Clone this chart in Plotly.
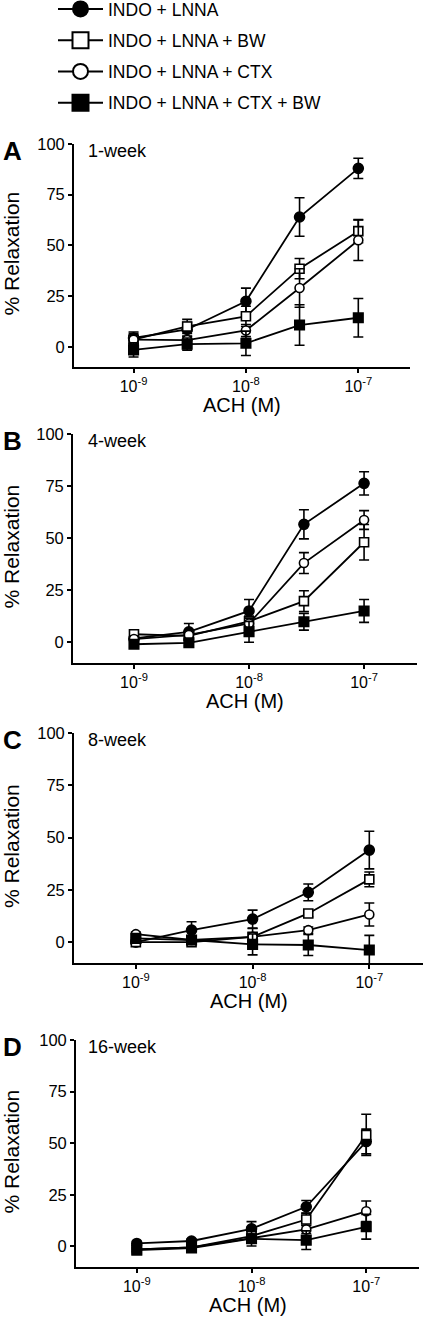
import plotly.graph_objects as go

W, H = 424, 1319

conc = [1e-9, 3e-9, 1e-8, 3e-8, 1e-7]
tick_vals = [1e-9, 1e-8, 1e-7]
tick_text = ["10<sup>-9</sup>", "10<sup>-8</sup>", "10<sup>-7</sup>"]
y_ticks = [0, 25, 50, 75, 100]

series_names = ["INDO + LNNA", "INDO + LNNA + BW", "INDO + LNNA + CTX", "INDO + LNNA + CTX + BW"]
panel_letters = ["A", "B", "C", "D"]
panel_titles = ["1-week", "4-week", "8-week", "16-week"]

# Panel A: 1-week
a_indo = [4.3, 8.5, 22.4, 64.0, 88.0]
a_indo_err = [3.0, 3.5, 6.5, 9.5, 5.0]
a_bw = [3.5, 10.0, 15.0, 38.5, 57.0]
a_bw_err = [3.0, 3.5, 5.0, 5.0, 5.7]
a_ctx = [3.5, 3.3, 8.0, 29.0, 52.5]
a_ctx_err = [2.0, 2.0, 3.0, 9.5, 10.0]
a_ctxbw = [-1.6, 1.3, 1.7, 10.7, 14.3]
a_ctxbw_err = [3.5, 3.0, 6.0, 10.0, 9.5]

# Panel B: 4-week
b_indo = [1.8, 5.0, 15.0, 56.6, 76.3]
b_indo_err = [1.5, 4.0, 5.5, 7.0, 5.6]
b_bw = [3.8, 3.0, 10.0, 19.7, 48.0]
b_bw_err = [1.5, 2.0, 2.5, 5.0, 8.5]
b_ctx = [1.5, 3.5, 9.0, 38.0, 58.7]
b_ctx_err = [1.5, 2.0, 2.5, 5.0, 4.5]
b_ctxbw = [-1.0, -0.3, 5.0, 9.8, 15.0]
b_ctxbw_err = [1.5, 1.5, 5.0, 4.0, 5.5]

# Panel C: 8-week
c_indo = [0.0, 5.7, 11.0, 23.8, 44.0]
c_indo_err = [1.0, 4.0, 4.3, 4.0, 9.0]
c_bw = [0.0, 0.0, 2.5, 13.7, 30.0]
c_bw_err = [1.0, 1.0, 4.0, 1.5, 3.5]
c_ctx = [3.8, 1.0, 2.5, 5.7, 13.2]
c_ctx_err = [1.0, 1.0, 2.0, 1.5, 5.5]
c_ctxbw = [1.8, 1.0, -1.1, -1.4, -3.8]
c_ctxbw_err = [1.0, 1.0, 5.0, 5.0, 7.0]

# Panel D: 16-week
d_indo = [1.4, 2.6, 8.5, 19.2, 50.8]
d_indo_err = [1.0, 1.0, 3.5, 3.0, 6.0]
d_bw = [-1.5, -0.5, 5.0, 13.0, 54.0]
d_bw_err = [1.0, 1.0, 2.0, 3.0, 10.0]
d_ctx = [-1.5, -0.5, 4.0, 8.2, 17.0]
d_ctx_err = [1.0, 1.0, 2.0, 2.0, 5.0]
d_ctxbw = [-1.8, -0.8, 3.7, 3.0, 9.5]
d_ctxbw_err = [1.0, 1.0, 3.5, 4.5, 6.0]

panels = [
    [(a_indo, a_indo_err), (a_bw, a_bw_err), (a_ctx, a_ctx_err), (a_ctxbw, a_ctxbw_err)],
    [(b_indo, b_indo_err), (b_bw, b_bw_err), (b_ctx, b_ctx_err), (b_ctxbw, b_ctxbw_err)],
    [(c_indo, c_indo_err), (c_bw, c_bw_err), (c_ctx, c_ctx_err), (c_ctxbw, c_ctxbw_err)],
    [(d_indo, d_indo_err), (d_bw, d_bw_err), (d_ctx, d_ctx_err), (d_ctxbw, d_ctxbw_err)],
]

# styles: (symbol, fill, plot size, legend size)
styles = [
    ("circle", "black", 10, 15),
    ("square", "white", 9, 16),
    ("circle", "white", 9, 15),
    ("square", "black", 9.5, 16),
]

# panel geometry in pixels: x0, x1, ytop(100), ybottom(-10)
geom = [
    (74, 410, 144, 367),
    (73, 417, 434, 663),
    (74, 423, 733, 963),
    (76, 419, 1040, 1267),
]

FONT = "Liberation Sans, Arial, sans-serif"


def px_x(p):
    return p / W


def px_y(p):
    return 1 - p / H


fig = go.Figure()

for i, panel in enumerate(panels):
    xa = "x" if i == 0 else f"x{i+1}"
    ya = "y" if i == 0 else f"y{i+1}"
    for j, (vals, errs) in enumerate(panel):
        sym, fill, size, _ = styles[j]
        fig.add_trace(go.Scatter(
            x=conc, y=vals,
            error_y=dict(type="data", array=errs, visible=True, color="black",
                         thickness=1.6, width=5),
            mode="lines+markers",
            line=dict(color="black", width=1.8),
            marker=dict(symbol=sym, size=size, color=fill,
                        line=dict(color="black", width=1.6)),
            name=series_names[j], legendgroup=series_names[j],
            showlegend=False, xaxis=xa, yaxis=ya, cliponaxis=False,
        ))

# legend-only traces
for j, name in enumerate(series_names):
    sym, fill, _, lsize = styles[j]
    fig.add_trace(go.Scatter(
        x=[None], y=[None], mode="lines+markers", name=name, legendgroup=name,
        line=dict(color="black", width=2),
        marker=dict(symbol=sym, size=lsize, color=fill,
                    line=dict(color="black", width=2)),
        showlegend=True, xaxis="x", yaxis="y",
    ))

axis_common = dict(showgrid=False, zeroline=False, showline=True, linecolor="black",
                   linewidth=1.8, ticks="outside", ticklen=4, tickwidth=1.5,
                   tickcolor="black")

annotations = []
for i in range(4):
    x0, x1, yt, yb = geom[i]
    sfx = "" if i == 0 else str(i + 1)
    fig.layout["xaxis" + sfx] = dict(
        type="log", range=[-9.53, -6.54], tickvals=tick_vals, ticktext=tick_text,
        domain=[px_x(x0), px_x(x1)], anchor="y" + sfx,
        tickfont=dict(family=FONT, size=16, color="black"), **axis_common)
    fig.layout["yaxis" + sfx] = dict(
        range=[-10, 100], tickvals=y_ticks, domain=[px_y(yb), px_y(yt)],
        anchor="x" + sfx,
        tickfont=dict(family=FONT, size=16.5, color="black"), **axis_common)
    # x-axis title
    annotations.append(dict(text="ACH (M)", x=px_x((x0 + x1) / 2), y=px_y(yb + 38),
                            xref="paper", yref="paper", showarrow=False,
                            font=dict(family=FONT, size=20, color="black"),
                            xanchor="center", yanchor="middle"))
    # y-axis title
    annotations.append(dict(text="% Relaxation", x=px_x(11), y=px_y((yt + yb) / 2 - 2),
                            xref="paper", yref="paper", showarrow=False, textangle=-90,
                            font=dict(family=FONT, size=21, color="black"),
                            xanchor="center", yanchor="middle"))
    # panel letter
    annotations.append(dict(text="<b>" + panel_letters[i] + "</b>", x=px_x(1), y=px_y(yt + 7),
                            xref="paper", yref="paper", showarrow=False,
                            font=dict(family=FONT, size=26, color="black"),
                            xanchor="left", yanchor="middle"))
    # panel title
    annotations.append(dict(text=panel_titles[i], x=px_x(86), y=px_y(yt + 7),
                            xref="paper", yref="paper", showarrow=False,
                            font=dict(family=FONT, size=18, color="black"),
                            xanchor="left", yanchor="middle"))

fig.update_layout(
    width=W, height=H,
    margin=dict(l=0, r=0, t=0, b=0, autoexpand=False),
    paper_bgcolor="white", plot_bgcolor="white",
    font=dict(family=FONT, color="black"),
    annotations=annotations,
    showlegend=True,
    legend=dict(x=px_x(53), y=1 + 9 / H, xanchor="left", yanchor="top",
                font=dict(family=FONT, size=17.5, color="black"),
                tracegroupgap=5.5, itemwidth=45, bgcolor="rgba(0,0,0,0)",
                traceorder="grouped"),
)

fig.write_html("out.html", config={"displayModeBar": False},
               post_script="document.body.style.margin='0';")
